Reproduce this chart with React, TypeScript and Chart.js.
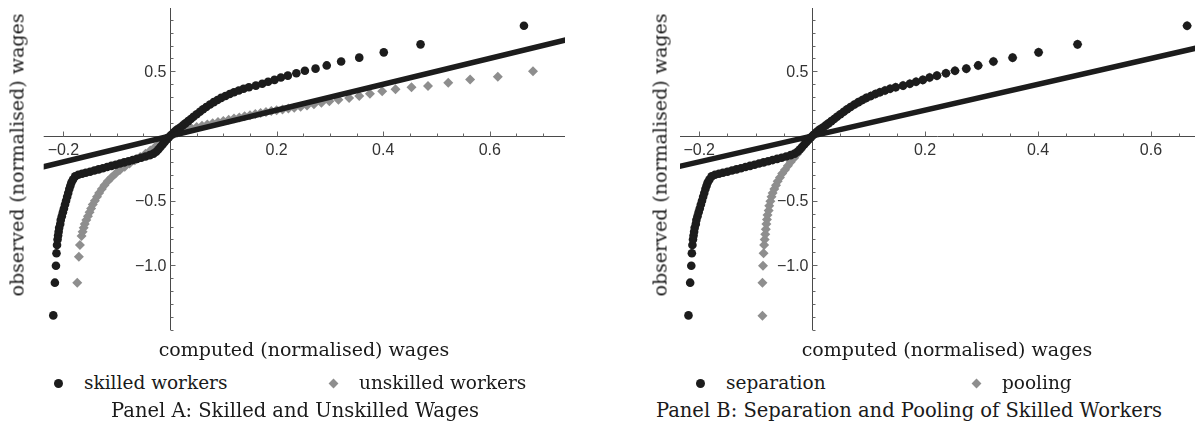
import React, { useEffect, useRef } from "react";
import { Chart, registerables } from "chart.js";

Chart.register(...registerables);

// ---------- data ----------
const skilledX = [
  -0.219, -0.216, -0.214, -0.213, -0.212, -0.211, -0.21, -0.209, -0.208, -0.206,
  -0.205, -0.203, -0.201, -0.199, -0.197, -0.195, -0.193, -0.191, -0.189, -0.187,
  -0.185, -0.182, -0.178, -0.172, -0.165, -0.158, -0.15, -0.142, -0.134, -0.126,
  -0.118, -0.11, -0.102, -0.094, -0.086, -0.078, -0.07, -0.062, -0.054, -0.046,
  -0.038, -0.031, -0.026, -0.022, -0.018, -0.014, -0.01, -0.006, -0.002, 0.002,
  0.006, 0.01, 0.014, 0.019, 0.024, 0.029, 0.034, 0.039, 0.044, 0.05,
  0.056, 0.062, 0.068, 0.075, 0.082, 0.089, 0.096, 0.104, 0.112, 0.12,
  0.129, 0.138, 0.148, 0.161, 0.173, 0.184, 0.196, 0.208, 0.221, 0.237,
  0.253, 0.273, 0.294, 0.321, 0.355, 0.401, 0.47, 0.664,
];
const skilledY = [
  -1.387, -1.134, -1.003, -0.907, -0.843, -0.8, -0.77, -0.74, -0.71, -0.68,
  -0.65, -0.62, -0.59, -0.56, -0.53, -0.5, -0.47, -0.44, -0.41, -0.385,
  -0.36, -0.337, -0.312, -0.3, -0.292, -0.284, -0.276, -0.267, -0.258, -0.249,
  -0.24, -0.231, -0.222, -0.213, -0.204, -0.195, -0.186, -0.177, -0.168, -0.158,
  -0.148, -0.136, -0.122, -0.104, -0.085, -0.065, -0.045, -0.027, -0.009, 0.008,
  0.024, 0.039, 0.052, 0.066, 0.082, 0.098, 0.115, 0.132, 0.149, 0.168,
  0.188, 0.207, 0.225, 0.244, 0.262, 0.279, 0.295, 0.31, 0.325, 0.339,
  0.352, 0.365, 0.377, 0.39, 0.404, 0.42, 0.434, 0.452, 0.467, 0.485,
  0.505, 0.521, 0.546, 0.576, 0.606, 0.647, 0.709, 0.853,
];

const unskilledX = [
  -0.174, -0.171, -0.169, -0.166, -0.164, -0.162, -0.16, -0.157, -0.154, -0.151,
  -0.148, -0.145, -0.141, -0.137, -0.133, -0.128, -0.123, -0.117, -0.11, -0.102,
  -0.094, -0.085, -0.076, -0.066, -0.056, -0.046, -0.037, -0.029, -0.022, -0.015,
  -0.009, -0.004, 0.001, 0.007, 0.014, 0.022, 0.03, 0.04, 0.05, 0.06,
  0.07, 0.08, 0.09, 0.1, 0.11, 0.12, 0.13, 0.14, 0.15, 0.16,
  0.17, 0.18, 0.19, 0.2, 0.211, 0.222, 0.233, 0.245, 0.257, 0.27,
  0.284, 0.299, 0.316, 0.336, 0.355, 0.375, 0.398, 0.423, 0.453, 0.484,
  0.522, 0.563, 0.615, 0.681,
];
const unskilledY = [
  -1.134, -0.933, -0.843, -0.773, -0.74, -0.71, -0.68, -0.65, -0.62, -0.59,
  -0.56, -0.53, -0.5, -0.47, -0.44, -0.41, -0.38, -0.35, -0.32, -0.29,
  -0.263, -0.237, -0.212, -0.187, -0.162, -0.137, -0.112, -0.088, -0.065, -0.044,
  -0.025, -0.01, 0.003, 0.015, 0.027, 0.038, 0.049, 0.06, 0.07, 0.08,
  0.09, 0.099, 0.108, 0.117, 0.126, 0.135, 0.144, 0.153, 0.161, 0.17,
  0.178, 0.186, 0.193, 0.2, 0.206, 0.212, 0.218, 0.227, 0.236, 0.246,
  0.257, 0.268, 0.281, 0.294, 0.309, 0.327, 0.346, 0.361, 0.377, 0.387,
  0.412, 0.438, 0.459, 0.5,
];

// pooling: the negative part differs, the positive part coincides with separation
const poolingLowerX = [
  -0.088, -0.088, -0.087, -0.086, -0.085, -0.084, -0.083, -0.082, -0.081, -0.08,
  -0.079, -0.077, -0.076, -0.074, -0.072, -0.07, -0.067, -0.064, -0.061, -0.057,
  -0.053, -0.048, -0.043, -0.038, -0.032, -0.027, -0.021, -0.016, -0.011, -0.006,
  -0.002,
];
const poolingLowerY = [
  -1.39, -1.134, -1.003, -0.907, -0.843, -0.8, -0.76, -0.72, -0.68, -0.645,
  -0.61, -0.575, -0.54, -0.505, -0.47, -0.44, -0.41, -0.38, -0.35, -0.32,
  -0.29, -0.26, -0.23, -0.2, -0.17, -0.14, -0.11, -0.08, -0.055, -0.03,
  -0.01,
];

// 45-degree reference line y = x
const refLineX = [-0.3, 0.8];

const xTickValuesA = [-0.2, 0.2, 0.4, 0.6];
const xTickLabelsA = ["\u22120.2", "0.2", "0.4", "0.6"];
const xTickValuesB = [-0.2, 0.2, 0.4, 0.6];
const xTickLabelsB = ["\u22120.2", "0.2", "0.4", "0.6"];
const yTickValues = [-1.0, -0.5, 0.5];
const yTickLabels = ["\u22121.0", "\u22120.5", "0.5"];

const xRangeA = [-0.237, 0.741];
const xRangeB = [-0.234, 0.678];
const yRange = [-1.5, 0.99];

// ---------- helpers ----------
const pts = (xs: number[], ys: number[]) => xs.map((x, i) => ({ x, y: ys[i] }));

const DARK = "#1c1c1c";
const GRAY = "#8e8e8e";

const axesPlugin = {
  id: "mmaAxes",
  beforeDatasetsDraw(chart: any, _args: any, opts: any) {
    const { ctx, chartArea } = chart;
    const xs = chart.scales.x;
    const ys = chart.scales.y;
    const x0 = Math.round(xs.getPixelForValue(0)) + 0.5;
    const y0 = Math.round(ys.getPixelForValue(0)) + 0.5;
    ctx.save();
    ctx.strokeStyle = "#4a4a4a";
    ctx.lineWidth = 1;
    ctx.beginPath();
    ctx.moveTo(chartArea.left, y0);
    ctx.lineTo(chartArea.right, y0);
    ctx.moveTo(x0, chartArea.top);
    ctx.lineTo(x0, chartArea.bottom);
    ctx.stroke();

    const isMajor = (v: number, list: number[]) => list.some((m) => Math.abs(m - v) < 1e-6);
    ctx.strokeStyle = "#666";
    ctx.beginPath();
    const xStep = opts.xMinorStep;
    for (let k = Math.ceil(xs.min / xStep); k * xStep <= xs.max + 1e-9; k++) {
      const v = k * xStep;
      if (Math.abs(v) < 1e-9) continue;
      const px = Math.round(xs.getPixelForValue(v)) + 0.5;
      const len = isMajor(v, opts.xTicks) ? 5 : 3;
      ctx.moveTo(px, y0);
      ctx.lineTo(px, y0 - len);
    }
    const yStep = opts.yMinorStep;
    for (let k = Math.ceil(ys.min / yStep); k * yStep <= ys.max + 1e-9; k++) {
      const v = k * yStep;
      if (Math.abs(v) < 1e-9) continue;
      const py = Math.round(ys.getPixelForValue(v)) + 0.5;
      const len = isMajor(v, opts.yTicks) ? 5 : 3;
      ctx.moveTo(x0, py);
      ctx.lineTo(x0 + len, py);
    }
    ctx.stroke();

    ctx.fillStyle = "#333";
    ctx.font = "16px 'Liberation Sans', Arial, sans-serif";
    ctx.textAlign = "center";
    ctx.textBaseline = "middle";
    opts.xTicks.forEach((v: number, i: number) => {
      ctx.fillText(opts.xLabels[i], xs.getPixelForValue(v), y0 + 14);
    });
    ctx.textAlign = "right";
    opts.yTicks.forEach((v: number, i: number) => {
      ctx.fillText(opts.yLabels[i], x0 - 4, ys.getPixelForValue(v) + 1);
    });
    ctx.restore();
  },
};

type PanelProps = {
  left: number;
  padLeft: number;
  padRight: number;
  xRange: number[];
  xTicks: number[];
  xLabels: string[];
  blackPts: { x: number; y: number }[];
  grayPts: { x: number; y: number }[];
  blackName: string;
  grayName: string;
};

function PanelChart(p: PanelProps) {
  const ref = useRef<HTMLCanvasElement | null>(null);
  useEffect(() => {
    if (!ref.current) return;
    const chart = new Chart(ref.current, {
      type: "scatter",
      data: {
        datasets: [
          {
            label: "45-degree line",
            data: refLineX.map((x) => ({ x, y: x })),
            showLine: true,
            borderColor: DARK,
            borderWidth: 5.5,
            pointRadius: 0,
            order: 0,
          } as any,
          {
            label: p.blackName,
            data: p.blackPts,
            pointStyle: "circle",
            pointRadius: 4.3,
            backgroundColor: DARK,
            borderWidth: 0,
            order: 1,
          },
          {
            label: p.grayName,
            data: p.grayPts,
            pointStyle: "rectRot",
            pointRadius: 5,
            backgroundColor: GRAY,
            borderWidth: 0,
            order: 2,
          },
        ],
      },
      options: {
        animation: false,
        responsive: false,
        events: [],
        layout: { padding: { left: p.padLeft, right: p.padRight, top: 8, bottom: 10 } },
        scales: {
          x: { type: "linear", min: p.xRange[0], max: p.xRange[1], display: false },
          y: { type: "linear", min: yRange[0], max: yRange[1], display: false },
        },
        plugins: {
          legend: { display: false },
          tooltip: { enabled: false },
          mmaAxes: {
            xTicks: p.xTicks,
            xLabels: p.xLabels,
            yTicks: yTickValues,
            yLabels: yTickLabels,
            xMinorStep: 0.05,
            yMinorStep: 0.1,
          },
        } as any,
      },
      plugins: [axesPlugin],
    });
    return () => chart.destroy();
  }, []);
  return (
    <canvas
      ref={ref}
      width={600}
      height={340}
      style={{ position: "absolute", left: p.left, top: 0, width: 600, height: 340 }}
    />
  );
}

const serif = "'DejaVu Serif', 'Liberation Serif', serif";

function Txt(props: { x: number; y: number; text: string; size?: number; rotate?: boolean; anchor?: "center" | "left" }) {
  const { x, y, text, size = 18.5, rotate = false, anchor = "center" } = props;
  const tf =
    anchor === "left"
      ? "translate(0,-50%)"
      : rotate
      ? "translate(-50%,-50%) rotate(-90deg)"
      : "translate(-50%,-50%)";
  return (
    <div
      style={{
        position: "absolute",
        left: x,
        top: y,
        transform: tf,
        fontFamily: serif,
        fontSize: size,
        color: "#1a1a1a",
        whiteSpace: "nowrap",
        lineHeight: 1,
        zIndex: 2,
      }}
    >
      {text}
    </div>
  );
}

function Dot({ x, y }: { x: number; y: number }) {
  return (
    <div
      style={{
        position: "absolute",
        left: x - 4.5,
        top: y - 4.5,
        width: 9,
        height: 9,
        borderRadius: "50%",
        background: DARK,
        zIndex: 2,
      }}
    />
  );
}

function Diamond({ x, y }: { x: number; y: number }) {
  return (
    <div
      style={{
        position: "absolute",
        left: x - 3.5,
        top: y - 3.5,
        width: 7,
        height: 7,
        transform: "rotate(45deg)",
        background: GRAY,
        zIndex: 2,
      }}
    />
  );
}

export default function App() {
  const skilled = pts(skilledX, skilledY);
  const unskilled = pts(unskilledX, unskilledY);
  const pooling = [
    ...pts(poolingLowerX, poolingLowerY),
    ...skilled.filter((d) => d.x > 0),
  ];
  return (
    <div
      style={{
        position: "absolute",
        left: 0,
        top: 0,
        width: 1200,
        height: 428,
        background: "#fff",
        overflow: "hidden",
      }}
    >
      <PanelChart
        left={0}
        padLeft={43.7}
        padRight={35}
        xRange={xRangeA}
        xTicks={xTickValuesA}
        xLabels={xTickLabelsA}
        blackPts={skilled}
        grayPts={unskilled}
        blackName="skilled workers"
        grayName="unskilled workers"
      />
      <PanelChart
        left={600}
        padLeft={80}
        padRight={0}
        xRange={xRangeB}
        xTicks={xTickValuesB}
        xLabels={xTickLabelsB}
        blackPts={skilled}
        grayPts={pooling}
        blackName="separation"
        grayName="pooling"
      />

      {/* Panel A texts */}
      <Txt x={17} y={155} text="observed (normalised) wages" size={19} rotate />
      <Txt x={304} y={349} text="computed (normalised) wages" size={19} />
      <Dot x={58} y={383} />
      <Txt x={84} y={383} text="skilled workers" anchor="left" />
      <Diamond x={333} y={383} />
      <Txt x={359} y={383} text="unskilled workers" anchor="left" />
      <Txt x={295} y={411} text="Panel A: Skilled and Unskilled Wages" size={19.5} />

      {/* Panel B texts */}
      <Txt x={660} y={155} text="observed (normalised) wages" size={19} rotate />
      <Txt x={947} y={349} text="computed (normalised) wages" size={19} />
      <Dot x={700} y={383} />
      <Txt x={726} y={383} text="separation" anchor="left" />
      <Diamond x={976} y={383} />
      <Txt x={1002} y={383} text="pooling" anchor="left" />
      <Txt x={909} y={411} text="Panel B: Separation and Pooling of Skilled Workers" size={19.5} />
    </div>
  );
}
